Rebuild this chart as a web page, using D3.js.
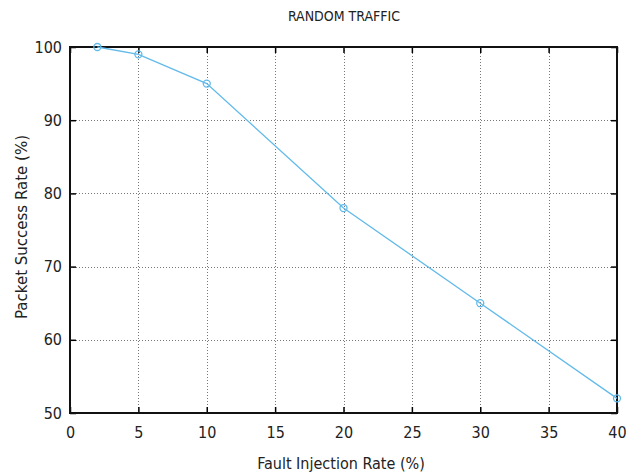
<!DOCTYPE html>
<html>
<head>
<meta charset="utf-8">
<script src="https://cdn.jsdelivr.net/npm/d3@7"></script>
<style>
	body { margin: 0; background: #fff; }
	text { fill: #222; }
</style>
</head>
<body>
<div id="chart"></div>
<script>

const faultRates = [2, 5, 10, 20, 30, 40];
const successRates = [100, 99, 95, 78, 65, 52];
const xTicks = [0, 5, 10, 15, 20, 25, 30, 35, 40];
const yTicks = [50, 60, 70, 80, 90, 100];

const width = 634;
const height = 476;
const margin = { top: 47, right: 17, bottom: 63, left: 70 };
const narrow = '"Liberation Sans Narrow", "DejaVu Sans Condensed", sans-serif';

const svg = d3.select('#chart')
	.append('svg')
		.attr('width', width)
		.attr('height', height);

const x = d3.scaleLinear()
	.domain([0, 40])
	.range([margin.left, width - margin.right]);

const y = d3.scaleLinear()
	.domain([50, 100])
	.range([height - margin.bottom, margin.top]);

// grid
const grid = svg.append('g')
	.attr('stroke', '#777')
	.attr('stroke-width', 1)
	.attr('stroke-dasharray', '1,2');

grid.selectAll('.gx')
	.data(xTicks.slice(1, -1))
	.join('line')
		.attr('x1', d => Math.round(x(d)) + 0.5)
		.attr('x2', d => Math.round(x(d)) + 0.5)
		.attr('y1', y(100))
		.attr('y2', y(50));

grid.selectAll('.gy')
	.data(yTicks.slice(1, -1))
	.join('line')
		.attr('x1', x(0))
		.attr('x2', x(40))
		.attr('y1', d => Math.round(y(d)) + 0.5)
		.attr('y2', d => Math.round(y(d)) + 0.5);

// axes with inward ticks
const fmtAxis = g => {
	g.select('.domain').remove();
	g.selectAll('line').attr('stroke', '#000').attr('stroke-width', 1.5);
	g.selectAll('text')
		.style('font-family', narrow)
		.style('font-size', '16px')
		.attr('fill', '#222');
};

svg.append('g')
	.attr('transform', `translate(0, ${y(50)})`)
	.call(d3.axisBottom(x).tickValues(xTicks).tickSizeInner(-6).tickPadding(14))
	.call(fmtAxis);

svg.append('g')
	.attr('transform', `translate(0, ${y(100)})`)
	.call(d3.axisTop(x).tickValues(xTicks).tickSizeInner(-6).tickFormat(''))
	.call(fmtAxis);

svg.append('g')
	.attr('transform', `translate(${x(0)}, 0)`)
	.call(d3.axisLeft(y).tickValues(yTicks).tickSizeInner(-6).tickPadding(8))
	.call(fmtAxis);

svg.append('g')
	.attr('transform', `translate(${x(40)}, 0)`)
	.call(d3.axisRight(y).tickValues(yTicks).tickSizeInner(-6).tickFormat(''))
	.call(fmtAxis);

// frame
svg.append('rect')
	.attr('x', x(0))
	.attr('y', y(100))
	.attr('width', x(40) - x(0))
	.attr('height', y(50) - y(100))
	.attr('fill', 'none')
	.attr('stroke', '#111')
	.attr('stroke-width', 2);

// series
const color = '#62baea';

const line = d3.line()
	.x((d, i) => x(faultRates[i]))
	.y(d => y(d));

svg.append('path')
	.datum(successRates)
	.attr('d', line)
	.attr('fill', 'none')
	.attr('stroke', color)
	.attr('stroke-width', 1.3);

svg.selectAll('.pt')
	.data(successRates)
	.join('circle')
		.attr('cx', (d, i) => x(faultRates[i]))
		.attr('cy', d => y(d))
		.attr('r', 3.5)
		.attr('fill', 'none')
		.attr('stroke', color)
		.attr('stroke-width', 1.3);

// titles
svg.append('text')
	.attr('x', 344)
	.attr('y', 21)
	.attr('text-anchor', 'middle')
	.style('font-family', narrow)
	.style('font-size', '14px')
	.text('RANDOM TRAFFIC');

svg.append('text')
	.attr('x', 341)
	.attr('y', 469)
	.attr('text-anchor', 'middle')
	.style('font-family', narrow)
	.style('font-size', '16px')
	.text('Fault Injection Rate (%)');

svg.append('text')
	.attr('transform', 'translate(27, 227) rotate(-90)')
	.attr('text-anchor', 'middle')
	.style('font-family', '"DejaVu Sans", sans-serif')
	.style('font-size', '15px')
	.text('Packet Success Rate (%)');

</script>
</body>
</html>
